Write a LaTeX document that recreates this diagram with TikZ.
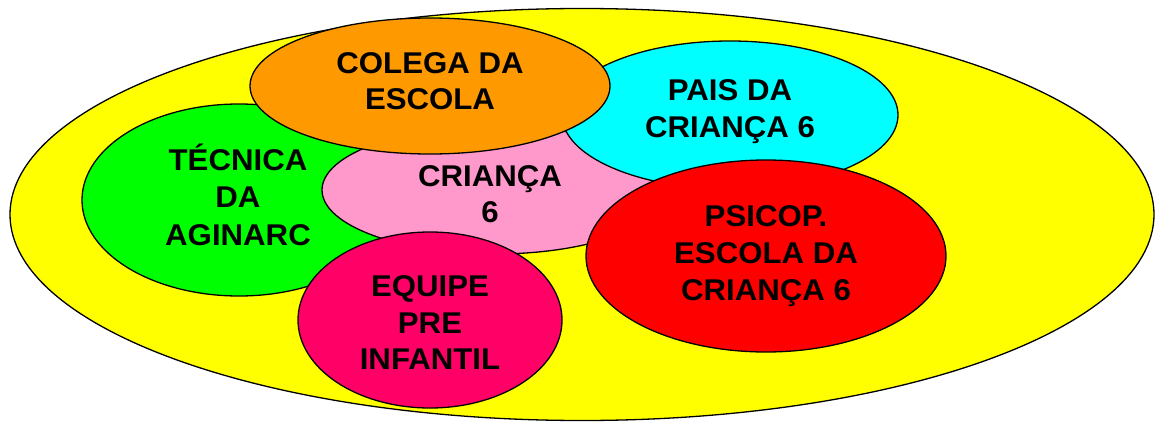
\documentclass[tikz,border=0pt]{standalone}
\usepackage{fontspec}
\setmainfont{Liberation Sans}
\newfontfamily\lblfont[FakeStretch=1.04]{Liberation Sans Bold}
\usetikzlibrary{shapes.geometric}
\definecolor{cYellow}{HTML}{FFFF00}
\definecolor{cGreen}{HTML}{00FF00}
\definecolor{cPink}{HTML}{FF99CC}
\definecolor{cCyan}{HTML}{00FFFF}
\definecolor{cOrange}{HTML}{FF9900}
\definecolor{cRed}{HTML}{FF0000}
\definecolor{cMagenta}{HTML}{FF0066}
\tikzset{
  blob/.style={ellipse, draw=black, line width=1.3pt, inner sep=0pt, outer sep=0pt},
  lbl/.style={anchor=base, inner sep=0pt, font=\lblfont\fontsize{30}{36}\selectfont}
}
\begin{document}
\begin{tikzpicture}[x=1pt,y=-1pt]
\useasboundingbox (0,0) rectangle (1156,423);
% outer
\node[blob, fill=cYellow, minimum width=1144pt, minimum height=412pt] (world) at (582,214.5) {};
% inner ellipses
\node[blob, fill=cGreen, minimum width=314pt, minimum height=192pt] (tec) at (239,200) {};
\node[blob, fill=cPink, minimum width=346pt, minimum height=128pt] (cri) at (495,190) {};
\node[blob, fill=cCyan, minimum width=336pt, minimum height=148pt] (pais) at (730,115) {};
\node[blob, fill=cOrange, minimum width=360pt, minimum height=136pt] (col) at (430,86) {};
\node[blob, fill=cRed, minimum width=360pt, minimum height=192pt] (psi) at (766,256) {};
\node[blob, fill=cMagenta, minimum width=264pt, minimum height=176pt] (equ) at (430,320) {};
% labels
\node[lbl] (col1) at (430,73.3) {COLEGA DA};
\node[lbl] (col2) at (430,109.5) {ESCOLA};
\node[lbl] (pais1) at (730,100) {PAIS DA};
\node[lbl] (pais2) at (730,137) {CRIANÇA 6};
\node[lbl] (cri1) at (490,186) {CRIANÇA};
\node[lbl] (cri2) at (490,222) {6};
\node[lbl] (tec1) at (238,170) {TÉCNICA};
\node[lbl] (tec2) at (238,207) {DA};
\node[lbl] (tec3) at (238,245) {AGINARC};
\node[lbl] (equ1) at (430,296) {EQUIPE};
\node[lbl] (equ2) at (430,333) {PRE};
\node[lbl] (equ3) at (430,369.5) {INFANTIL};
\node[lbl] (psi1) at (766,226) {PSICOP.};
\node[lbl] (psi2) at (766,263.3) {ESCOLA DA};
\node[lbl] (psi3) at (766,300) {CRIANÇA 6};
\end{tikzpicture}
\end{document}
